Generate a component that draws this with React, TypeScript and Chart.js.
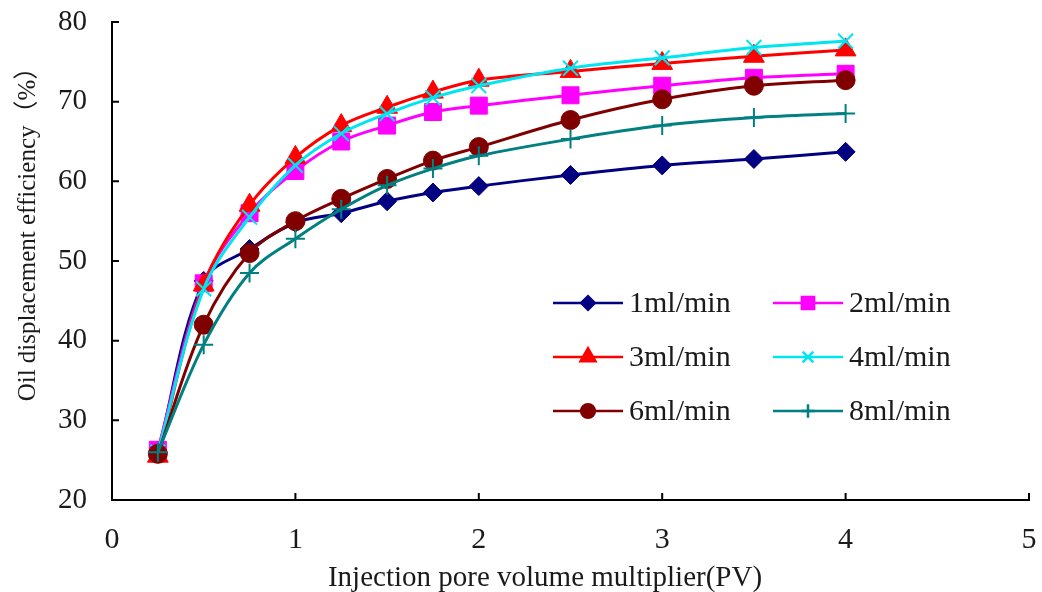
import React, { useEffect, useRef } from 'react';
import { Chart, registerables } from 'chart.js';
import { drawPoint } from 'chart.js/helpers';

Chart.register(...registerables);

const xValues = [0.25, 0.5, 0.75, 1, 1.25, 1.5, 1.75, 2, 2.5, 3, 3.5, 4];
const seriesNames = ['1ml/min', '2ml/min', '3ml/min', '4ml/min', '6ml/min', '8ml/min'];
const rate1 = [26, 47.5, 51.5, 54.8, 56, 57.5, 58.6, 59.4, 60.8, 62, 62.8, 63.7];
const rate2 = [26.3, 47.2, 56, 61.3, 65, 67, 68.7, 69.5, 70.8, 72, 73, 73.5];
const rate3 = [25.5, 47, 57, 63, 67, 69.3, 71.2, 72.7, 73.8, 74.8, 75.7, 76.5];
const rate4 = [26, 46.5, 55.5, 62, 66, 68.5, 70.5, 72, 74.2, 75.5, 76.8, 77.6];
const rate6 = [25.8, 42, 51, 55, 57.8, 60.3, 62.6, 64.3, 67.7, 70.3, 72, 72.7];
const rate8 = [26, 39.5, 48.5, 52.8, 56.5, 59.5, 61.6, 63.2, 65.3, 67, 68, 68.5];
const xTickValues = [0, 1, 2, 3, 4, 5];
const yTickValues = [20, 30, 40, 50, 60, 70, 80];

const xTitle = 'Injection pore volume multiplier(PV)';
const yTitle = 'Oil displacement efficiency（%）';

const colors = ['#000080', '#FF00FF', '#FF0000', '#00E5F0', '#800000', '#008080'];
const pointStyles = ['rectRot', 'rect', 'triangle', 'crossRot', 'circle', 'cross'];
const pointRadii = [9.5, 12, 12, 10.5, 9.5, 9.5];

const SERIF = '"Liberation Serif", "Times New Roman", "Noto Sans CJK SC", serif';

export default function App() {
  const ref = useRef<HTMLCanvasElement | null>(null);

  useEffect(() => {
    document.body.style.margin = '0';
    const canvas = ref.current;
    if (!canvas) return;
    const allSeries = [rate1, rate2, rate3, rate4, rate6, rate8];

    const datasets = allSeries.map((vals, i) => ({
      label: seriesNames[i],
      data: vals.map((v, j) => ({ x: xValues[j], y: v })),
      order: allSeries.length - i,
      borderColor: colors[i],
      backgroundColor: colors[i],
      pointBackgroundColor: colors[i],
      pointBorderColor: colors[i],
      pointStyle: pointStyles[i],
      pointRadius: pointRadii[i],
      pointBorderWidth: pointStyles[i].startsWith('cross') ? 2 : 1,
      borderWidth: 3,
      tension: 0.35,
      fill: false,
    }));

    const decor = {
      id: 'decor',
      afterDraw(chart: any) {
        const ctx = chart.ctx;
        const xs = chart.scales.x;
        const ys = chart.scales.y;
        const area = chart.chartArea;
        ctx.save();
        // inside tick marks
        ctx.strokeStyle = '#000';
        ctx.lineWidth = 2;
        ctx.beginPath();
        xTickValues.forEach((v) => {
          const px = xs.getPixelForValue(v);
          ctx.moveTo(px, area.bottom);
          ctx.lineTo(px, area.bottom - 7);
        });
        yTickValues.forEach((v) => {
          const py = ys.getPixelForValue(v);
          ctx.moveTo(area.left, py);
          ctx.lineTo(area.left + 7, py);
        });
        ctx.stroke();

        // axis titles
        ctx.fillStyle = '#1a1a1a';
        ctx.textAlign = 'center';
        ctx.textBaseline = 'middle';
        ctx.font = `29px ${SERIF}`;
        ctx.fillText(xTitle, 545, 578);
        ctx.save();
        ctx.translate(28, 228);
        ctx.rotate(-Math.PI / 2);
        ctx.font = `25px ${SERIF}`;
        ctx.fillText(yTitle, 0, 0);
        ctx.restore();

        // legend
        const colX = [553, 773];
        const rowY = [303, 357, 411];
        chart.data.datasets.forEach((ds: any, i: number) => {
          const x0 = colX[i % 2];
          const y0 = rowY[Math.floor(i / 2)];
          ctx.strokeStyle = ds.borderColor;
          ctx.lineWidth = 2.5;
          ctx.beginPath();
          ctx.moveTo(x0, y0);
          ctx.lineTo(x0 + 70, y0);
          ctx.stroke();
          ctx.fillStyle = ds.borderColor;
          ctx.strokeStyle = ds.borderColor;
          drawPoint(ctx, {
            pointStyle: ds.pointStyle,
            radius: ds.pointRadius * 0.72,
            rotation: 0,
            borderWidth: ds.pointStyle.startsWith('cross') ? 2 : 1,
          }, x0 + 35, y0);
          ctx.fillStyle = '#1a1a1a';
          ctx.textAlign = 'left';
          ctx.textBaseline = 'middle';
          ctx.font = `30px ${SERIF}`;
          ctx.fillText(ds.label, x0 + 76, y0 + 1);
        });
        ctx.restore();
      },
    };

    const chart = new Chart(canvas, {
      type: 'line',
      data: { datasets },
      options: {
        animation: false,
        responsive: false,
        maintainAspectRatio: false,
        layout: { padding: { left: 0, right: 12, top: 22, bottom: 0 } },
        plugins: {
          legend: { display: false },
          tooltip: { enabled: false },
        },
        scales: {
          x: {
            type: 'linear',
            min: 0,
            max: 5,
            afterFit: (s: any) => {
              s.height = 92;
              s.paddingLeft = 0;
              s.paddingRight = 0;
            },
            afterBuildTicks: (s: any) => { s.ticks = xTickValues.map((v) => ({ value: v })); },
            grid: { display: false, drawTicks: false },
            border: { display: true, color: '#000', width: 2 },
            ticks: {
              padding: 22,
              color: '#1a1a1a',
              font: { family: SERIF, size: 30 },
            },
          },
          y: {
            type: 'linear',
            min: 20,
            max: 80,
            afterFit: (s: any) => {
              s.width = 112;
              s.paddingTop = 0;
              s.paddingBottom = 0;
            },
            afterBuildTicks: (s: any) => { s.ticks = yTickValues.map((v) => ({ value: v })); },
            grid: { display: false, drawTicks: false },
            border: { display: true, color: '#000', width: 2 },
            ticks: {
              padding: 25,
              color: '#1a1a1a',
              font: { family: SERIF, size: 29 },
            },
          },
        },
      },
      plugins: [decor],
    } as any);

    return () => chart.destroy();
  }, []);

  return (
    <div style={{ position: 'absolute', left: 0, top: 0, width: 1042, height: 592, background: '#fff' }}>
      <canvas ref={ref} width={1042} height={592} />
    </div>
  );
}
